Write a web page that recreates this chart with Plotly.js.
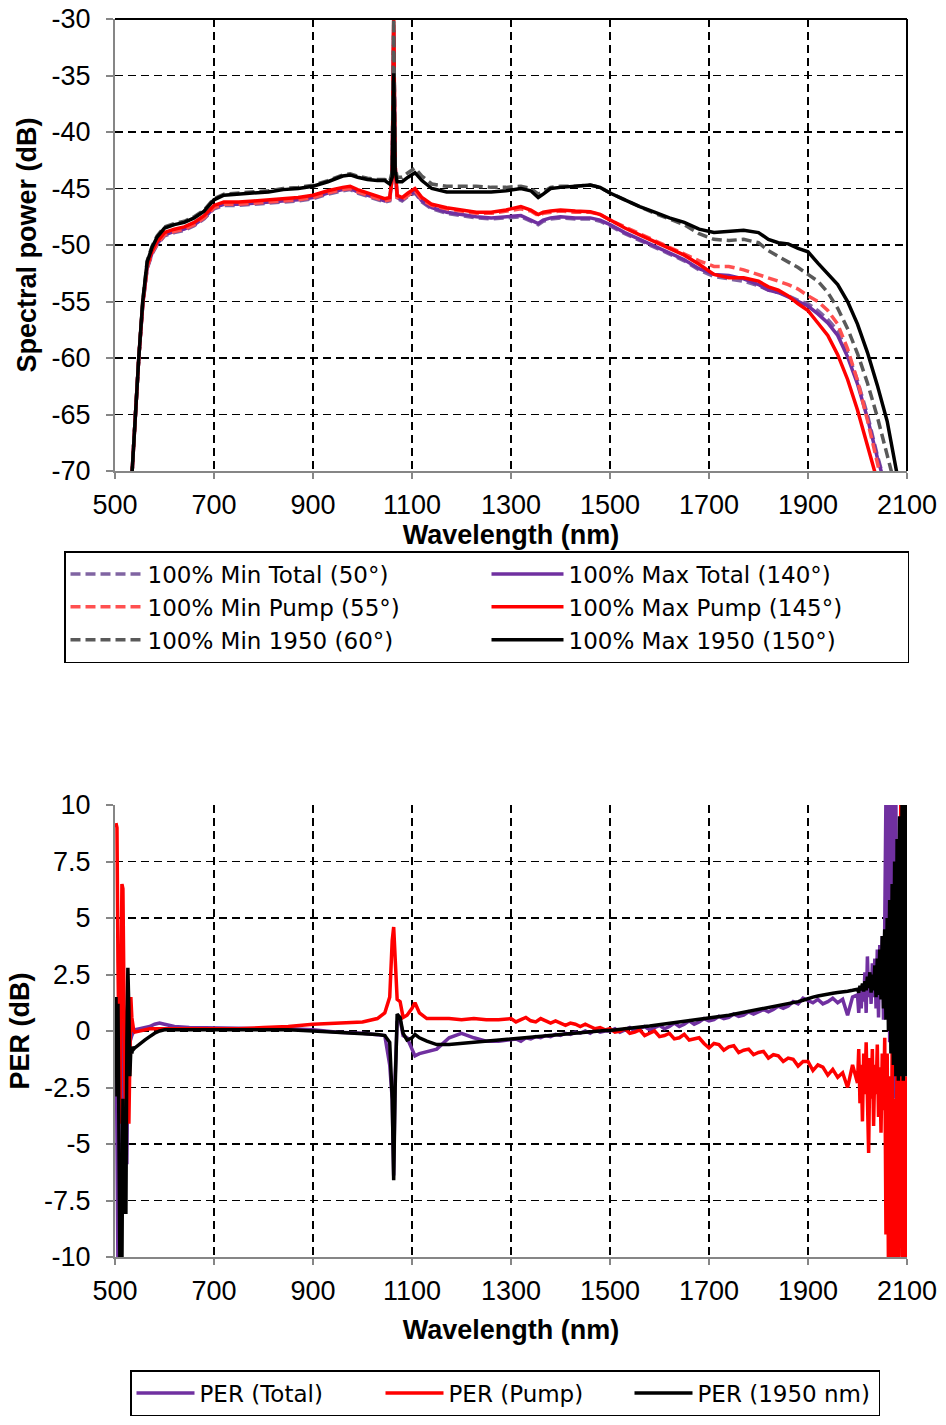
<!DOCTYPE html>
<html>
<head>
<meta charset="utf-8">
<script src="https://cdn.plot.ly/plotly-3.0.1.min.js"></script>
<style>
  html, body { margin: 0; padding: 0; background: #fff; overflow: hidden; }
  #chart { width: 946px; height: 1425px; }
</style>
</head>
<body>
<div id="chart"></div>
<script>
// ---------- Top chart: spectral power (dB) vs wavelength (nm) ----------
const wavelengthTop = [534, 541, 548, 556, 565, 575, 585, 600, 620, 640,
  660, 680, 700, 720, 750, 780, 810, 840, 870, 900,
  930, 960, 975, 990, 1010, 1030, 1045, 1055, 1060, 1063,
  1066, 1070, 1080, 1092, 1106, 1120, 1140, 1170, 1200, 1230,
  1260, 1290, 1320, 1340, 1355, 1365, 1380, 1400, 1430, 1460,
  1480, 1500, 1530, 1560, 1590, 1620, 1650, 1680, 1710, 1740,
  1770, 1800, 1820, 1840, 1860, 1880, 1900, 1920, 1940, 1960,
  1980, 2000, 2020, 2040, 2060, 2080];

const minTotal50 = [-70.5, -65, -60, -55.4, -52.1, -50.8, -50.0, -49.2, -48.9, -48.7,
  -48.3, -47.7, -46.8, -46.5, -46.5, -46.4, -46.3, -46.2, -46.1, -45.9,
  -45.5, -45.2, -45.1, -45.4, -45.7, -46.0, -46.2, -46.1, -44.0, -31.0,
  -43.0, -45.9, -46.1, -45.7, -45.4, -46.2, -46.8, -47.2, -47.4, -47.6,
  -47.7, -47.6, -47.5, -47.9, -48.2, -47.9, -47.7, -47.6, -47.7, -47.7,
  -47.9, -48.3, -49.0, -49.6, -50.2, -50.8, -51.4, -52.2, -52.8, -53.0,
  -53.2, -53.6, -54.0, -54.2, -54.5, -54.9, -55.2, -55.8, -56.6, -57.6,
  -59.5, -62.0, -65.0, -68.6, -72.0, -75.0];

const maxTotal140 = [-70.5, -65, -60, -55.3, -52.0, -50.7, -49.9, -49.1, -48.8, -48.6,
  -48.2, -47.6, -46.7, -46.4, -46.4, -46.3, -46.2, -46.1, -46.0, -45.8,
  -45.4, -45.1, -45.0, -45.3, -45.6, -45.9, -46.1, -46.0, -44.0, -31.0,
  -43.0, -45.8, -46.0, -45.6, -45.3, -46.1, -46.7, -47.1, -47.3, -47.5,
  -47.6, -47.5, -47.4, -47.8, -48.1, -47.8, -47.6, -47.5, -47.6, -47.6,
  -47.8, -48.2, -48.9, -49.5, -50.1, -50.7, -51.3, -52.1, -52.6, -52.7,
  -53.0, -53.5, -54.0, -54.2, -54.6, -55.0, -55.4, -56.1, -56.9, -58.0,
  -59.9, -62.3, -65.3, -68.8, -72.0, -75.0];

const minPump55 = [-70.5, -65, -60, -55.3, -52.0, -50.7, -49.9, -49.1, -48.8, -48.6,
  -48.2, -47.6, -46.7, -46.4, -46.4, -46.3, -46.2, -46.1, -46.0, -45.8,
  -45.4, -45.1, -45.0, -45.3, -45.6, -45.9, -46.1, -46.0, -44.0, -30.5,
  -43.0, -45.8, -46.0, -45.6, -45.2, -46.0, -46.5, -46.8, -47.0, -47.2,
  -47.2, -47.0, -46.8, -47.0, -47.4, -47.2, -47.1, -47.0, -47.1, -47.1,
  -47.3, -47.8, -48.4, -49.0, -49.6, -50.2, -50.8, -51.4, -51.9, -51.9,
  -52.2, -52.6, -52.9, -53.2, -53.5, -53.9, -54.5, -55.0, -55.8, -57.0,
  -59.2, -62.0, -65.5, -69.4, -73.0, -75.0];

const maxPump145 = [-70.5, -65, -60, -55.2, -51.8, -50.5, -49.7, -48.9, -48.6, -48.4,
  -48.0, -47.4, -46.5, -46.2, -46.2, -46.1, -46.0, -45.9, -45.8, -45.6,
  -45.2, -44.9, -44.8, -45.1, -45.4, -45.7, -45.9, -45.8, -44.0, -30.0,
  -43.0, -45.6, -45.8, -45.4, -45.0, -45.8, -46.4, -46.7, -46.9, -47.1,
  -47.1, -46.9, -46.6, -46.9, -47.3, -47.1, -47.0, -46.9, -47.0, -47.05,
  -47.3, -47.8, -48.5, -49.1, -49.7, -50.3, -50.9, -51.7, -52.6, -52.9,
  -52.9, -53.2, -53.7, -54.0, -54.5, -55.2, -55.8, -56.9, -58.0, -59.7,
  -61.9, -64.6, -67.8, -71.0, -74.0, -76.0];

const min1950_60 = [-70.5, -65, -60, -55, -51.4, -50.1, -49.2, -48.4, -48.1, -47.9,
  -47.5, -46.9, -45.9, -45.5, -45.4, -45.3, -45.2, -45.0, -44.9, -44.7,
  -44.3, -43.8, -43.7, -43.9, -44.1, -44.2, -44.2, -44.4, -43.5, -30.0,
  -43.0, -44.0, -44.0, -43.6, -43.2, -43.9, -44.6, -44.8, -44.8, -44.8,
  -44.9, -44.9, -44.8, -45.0, -45.5, -45.3, -44.9, -44.8, -44.8, -44.7,
  -44.9, -45.4, -46.0, -46.6, -47.2, -47.7, -48.2, -49.0, -49.5, -49.6,
  -49.5, -49.8, -50.5, -51.0, -51.5, -52.0, -52.6, -53.2, -54.2, -55.6,
  -57.4, -59.6, -62.2, -65.2, -68.6, -72.0];

const max1950_150 = [-70.5, -65, -60, -55, -51.5, -50.2, -49.3, -48.5, -48.2, -48.0,
  -47.6, -47.0, -46.0, -45.6, -45.5, -45.4, -45.3, -45.1, -45.0, -44.8,
  -44.4, -43.9, -43.8, -44.0, -44.2, -44.3, -44.3, -44.6, -44.0, -34.8,
  -43.5, -44.4, -44.4, -44.0, -43.6, -44.3, -45.0, -45.3, -45.3, -45.3,
  -45.3, -45.2, -45.0, -45.2, -45.8, -45.5, -45.0, -44.9, -44.8, -44.7,
  -44.9, -45.4, -46.0, -46.6, -47.1, -47.6, -48.0, -48.6, -48.9, -48.8,
  -48.7, -48.9, -49.5, -49.8, -49.9, -50.3, -50.6, -51.6, -52.6, -53.5,
  -55.0, -57.0, -59.5, -62.4, -65.6, -70.3];

// ---------- Bottom chart: PER (dB) vs wavelength (nm) ----------
const wavelengthPer = [502, 504, 506, 508, 510, 512, 514, 516, 518, 520,
  522, 524, 526, 528, 530, 532, 534, 536, 538, 540,
  550, 560, 570, 580, 590, 600, 620, 650, 700, 750,
  800, 850, 900, 950, 1000, 1030, 1045, 1055, 1060, 1063,
  1066, 1070, 1076, 1082, 1090, 1100, 1106, 1115, 1130, 1150,
  1175, 1200, 1225, 1250, 1275,
  1300, 1310, 1320, 1330, 1340, 1350, 1360, 1370, 1380, 1390,
  1400, 1410, 1420, 1430, 1440, 1450, 1460, 1470, 1480, 1490,
  1500, 1510, 1520, 1530, 1540, 1550, 1560, 1570, 1580, 1590,
  1600, 1610, 1620, 1630, 1640, 1650, 1660, 1670, 1680, 1690,
  1700, 1710, 1720, 1730, 1740, 1750, 1760, 1770, 1780, 1790,
  1800, 1810, 1820, 1830, 1840, 1850, 1860, 1870, 1880, 1890,
  1900, 1910, 1920, 1930, 1940, 1950, 1960, 1970, 1980, 1990,
  2000, 2002.5, 2005, 2007.5, 2010, 2012.5, 2015, 2017.5, 2020, 2022.5,
  2025, 2027.5, 2030, 2032.5, 2035, 2037.5, 2040, 2042.5, 2045, 2047.5,
  2050, 2052.5, 2055, 2057.5, 2060, 2062.5, 2065, 2067.5, 2070, 2072.5,
  2075, 2077.5, 2080, 2082.5, 2085, 2087.5, 2090, 2092.5, 2095, 2097.5,
  2100];

const perTotal = [1.0, -3.0, -10.5, -10.5, -5.0, -10.5, -2.0, 0.5, -2.0, -6.0,
  -4.0, -5.9, -1.0, -2.5, -0.5, -0.3, -0.2, -0.1, 0.0, 0.05,
  0.1, 0.15, 0.2, 0.3, 0.35, 0.3, 0.2, 0.15, 0.15, 0.12,
  0.1, 0.1, 0.05, -0.05, -0.1, -0.15, -0.2, -1.5, -3.0, -6.4,
  -2.0, 0.4, 0.5, -0.2, -0.3, -0.8, -1.1, -1.0, -0.9, -0.8,
  -0.3, -0.1, -0.3, -0.45, -0.45,
  -0.4, -0.35, -0.45, -0.3, -0.35, -0.25, -0.3, -0.2, -0.25, -0.15,
  -0.2, -0.1, -0.15, -0.05, -0.1, 0.0, -0.1, 0.05, -0.05, 0.0,
  0.0, 0.1, -0.05, 0.05, 0.15, 0.0, 0.1, 0.2, 0.05, 0.15,
  0.25, 0.1, 0.2, 0.35, 0.2, 0.3, 0.45, 0.3, 0.4, 0.55,
  0.45, 0.5, 0.65, 0.55, 0.6, 0.75, 0.65, 0.7, 0.85, 0.75,
  0.85, 0.95, 0.85, 0.95, 1.1, 1.0, 1.1, 1.3, 1.2, 1.45,
  1.35, 1.25, 1.4, 1.2, 1.3, 1.45, 1.25, 1.4, 0.7, 1.5,
  1.6, 0.8, 1.7, 1.0, 2.0, 1.3, 2.6, 0.8, 3.3, 1.5,
  2.5, 1.2, 3.0, 1.5, 3.2, 1.0, 3.6, 0.6, 3.8, 1.5,
  4.2, 0.5, 4.6, 10.5, 1.0, 10.5, -0.5, 10.5, 2.0, 10.5,
  -3.0, 10.5, -2.0, 8.0, -5.0, 6.0, -3.0, 5.0, -2.0, 4.0,
  0.0];

const perPump = [9.2, 9.0, 3.0, -2.0, -4.1, 2.0, 6.5, 6.3, 1.0, -2.5,
  -4.0, -2.0, 1.5, -4.1, -1.0, 1.5, 0.6, 0.2, 0.0, -0.05,
  0.0, 0.05, 0.1, 0.1, 0.1, 0.1, 0.1, 0.1, 0.1, 0.1,
  0.15, 0.2, 0.3, 0.35, 0.4, 0.55, 0.8, 1.5, 4.0, 4.6,
  3.0, 1.4, 1.3, 0.6, 0.7, 1.0, 1.25, 0.8, 0.55, 0.55,
  0.55, 0.5, 0.55, 0.5, 0.5,
  0.55, 0.4, 0.5, 0.6, 0.45, 0.4, 0.55, 0.45, 0.35, 0.45,
  0.35, 0.25, 0.35, 0.3, 0.2, 0.3, 0.2, 0.1, 0.15, 0.05,
  0.1, -0.05, 0.0, 0.1, -0.1, -0.05, 0.05, -0.2, -0.1, 0.0,
  -0.25, -0.2, -0.1, -0.35, -0.3, -0.15, -0.4, -0.35, -0.3, -0.55,
  -0.75, -0.55, -0.6, -0.85, -0.7, -0.65, -0.95, -0.85, -0.8, -1.05,
  -0.95, -0.9, -1.2, -1.05, -1.1, -1.35, -1.2, -1.25, -1.55, -1.35,
  -1.35, -1.75, -1.5, -1.6, -1.95, -1.7, -2.05, -1.85, -2.5, -1.5,
  -2.3, -0.8, -3.2, -1.5, -4.0, -1.0, -2.8, -0.5, -3.5, -5.4,
  -1.2, -3.0, -0.8, -4.2, -1.5, -2.8, -0.6, -3.8, -1.6, -4.5,
  -1.0, -3.5, -0.3, -9.0, -1.0, -10.5, -2.0, -10.5, -0.5, -10.5,
  -3.0, -10.5, 0.0, -10.5, -2.0, 10.5, -10.5, -1.0, -10.5, -2.0,
  -10.5];

const per1950 = [1.5, -2.9, 1.2, -3.0, -10.5, -6.0, -10.5, -3.0, -8.1, -5.0,
  -8.1, -0.5, 2.8, 1.0, -2.0, -0.8, -1.0, -0.7, -0.8, -0.75,
  -0.55, -0.4, -0.25, -0.1, 0.0, 0.05, 0.05, 0.05, 0.05, 0.05,
  0.05, 0.05, 0.0, -0.05, -0.1, -0.15, -0.2, -0.5, -3.0, -6.6,
  -2.5, 0.75, 0.6, -0.1, -0.4, -0.3, -0.15, -0.3, -0.45, -0.6,
  -0.6, -0.55, -0.5, -0.45, -0.4,
  -0.35, -0.34, -0.3, -0.29, -0.28, -0.25, -0.24, -0.2, -0.2, -0.17,
  -0.15, -0.14, -0.1, -0.09, -0.07, -0.05, -0.04, -0.01, 0.0, 0.02,
  0.02, 0.05, 0.07, 0.1, 0.12, 0.15, 0.17, 0.2, 0.22, 0.25,
  0.28, 0.3, 0.33, 0.36, 0.38, 0.41, 0.44, 0.46, 0.5, 0.52,
  0.55, 0.58, 0.62, 0.66, 0.7, 0.74, 0.78, 0.82, 0.86, 0.9,
  0.95, 0.99, 1.03, 1.07, 1.11, 1.16, 1.2, 1.25, 1.3, 1.36,
  1.45, 1.5, 1.55, 1.6, 1.63, 1.67, 1.7, 1.72, 1.76, 1.8,
  1.85, 1.7, 2.0, 1.8, 2.1, 1.75, 2.2, 1.8, 2.4, 1.9,
  2.6, 1.7, 2.5, 1.8, 2.9, 1.5, 3.2, 1.6, 3.6, 1.4,
  4.2, 1.0, 4.5, 0.5, 5.0, 0.0, 5.8, -1.0, 6.5, -1.5,
  7.5, -2.0, 8.5, -2.2, 9.5, -2.0, 10.5, -2.2, 10.5, -2.0,
  10.5];

// ---------- Tick labels ----------
const xTickVals = [500, 700, 900, 1100, 1300, 1500, 1700, 1900, 2100];
const xTickText = ['500', '700', '900', '1100', '1300', '1500', '1700', '1900', '2100'];
const yTopTickVals = [-70, -65, -60, -55, -50, -45, -40, -35, -30];
const yTopTickText = ['-70', '-65', '-60', '-55', '-50', '-45', '-40', '-35', '-30'];
const yPerTickVals = [-10, -7.5, -5, -2.5, 0, 2.5, 5, 7.5, 10];
const yPerTickText = ['-10', '-7.5', '-5', '-2.5', '0', '2.5', '5', '7.5', '10'];

// ---------- Trace definitions ----------
const FONT = 'Liberation Sans, Arial, sans-serif';
const LEGEND_FONT = 'DejaVu Sans, Liberation Sans, sans-serif';
const W = 946, H = 1425;
const DASH = '10px,5px';

function topTrace(name, y, color, dashed) {
  return {
    type: 'scatter', mode: 'lines', name: name,
    x: wavelengthTop, y: y, xaxis: 'x', yaxis: 'y', legend: 'legend',
    line: { color: color, width: 3.5, dash: dashed ? DASH : 'solid' },
    hoverinfo: 'x+y+name'
  };
}
function perTrace(name, y, color) {
  return {
    type: 'scatter', mode: 'lines', name: name,
    x: wavelengthPer, y: y, xaxis: 'x2', yaxis: 'y2', legend: 'legend2',
    line: { color: color, width: 3.5 },
    hoverinfo: 'x+y+name'
  };
}

const data = [
  topTrace('100% Min Total (50°)', minTotal50, '#8064A2', true),
  topTrace('100% Max Total (140°)', maxTotal140, '#7030A0', false),
  topTrace('100% Min Pump (55°)', minPump55, '#FF5050', true),
  topTrace('100% Max Pump (145°)', maxPump145, '#FF0000', false),
  topTrace('100% Min 1950 (60°)', min1950_60, '#595959', true),
  topTrace('100% Max 1950 (150°)', max1950_150, '#000000', false),
  perTrace('PER (Total)', perTotal, '#7030A0'),
  perTrace('PER (Pump)', perPump, '#FF0000'),
  perTrace('PER (1950 nm)', per1950, '#000000')
];

const xDomain = [115 / W, 907 / W];
const topDomain = [1 - 471 / H, 1 - 19 / H];
const botDomain = [1 - 1257 / H, 1 - 805 / H];

function xAxis(anchor, titleStandoff) {
  return {
    domain: xDomain, range: [500, 2100], anchor: anchor,
    tickmode: 'array', tickvals: xTickVals, ticktext: xTickText,
    showgrid: true, gridcolor: '#000000', griddash: '8px,5px', gridwidth: 1.5,
    showline: true, linecolor: '#868686', linewidth: 2,
    ticks: 'outside', ticklen: 6, tickwidth: 2, tickcolor: '#868686',
    ticklabelstandoff: 3,
    tickfont: { family: FONT, size: 27, color: '#000' },
    zeroline: false, automargin: false,
    title: { text: 'Wavelength (nm)', font: { family: FONT, size: 27, color: '#000', weight: 'bold' }, standoff: titleStandoff }
  };
}
function yAxis(domain, range, vals, text, title, anchor, titleStandoff) {
  return {
    domain: domain, range: range, anchor: anchor,
    tickmode: 'array', tickvals: vals, ticktext: text,
    showgrid: true, gridcolor: '#000000', griddash: '8px,5px', gridwidth: 1.5,
    showline: true, linecolor: '#868686', linewidth: 2,
    ticks: 'outside', ticklen: 7, tickwidth: 2, tickcolor: '#868686',
    ticklabelstandoff: 10,
    tickfont: { family: FONT, size: 27, color: '#000' },
    zeroline: false, automargin: false,
    title: { text: title, font: { family: FONT, size: 27, color: '#000', weight: 'bold' }, standoff: titleStandoff }
  };
}

const layout = {
  width: W, height: H,
  margin: { l: 0, r: 0, t: 0, b: 0, autoexpand: false },
  paper_bgcolor: '#ffffff', plot_bgcolor: '#ffffff',
  font: { family: FONT, size: 25, color: '#000' },
  showlegend: true,
  xaxis: xAxis('y', 0),
  yaxis: yAxis(topDomain, [-70, -30], yTopTickVals, yTopTickText, 'Spectral power (dB)', 'x', 7),
  xaxis2: xAxis('y2', 15),
  yaxis2: yAxis(botDomain, [-10, 10], yPerTickVals, yPerTickText, 'PER (dB)', 'x2', 7),
  legend: {
    x: 64 / W, y: 1 - 551 / H, xanchor: 'left', yanchor: 'top',
    orientation: 'h', entrywidth: 334, entrywidthmode: 'pixels',
    itemwidth: 72, traceorder: 'normal',
    bordercolor: '#000', borderwidth: 1.5, bgcolor: '#fff',
    font: { family: LEGEND_FONT, size: 23, color: '#000' }
  },
  legend2: {
    x: 130 / W, y: 1 - 1370 / H, xanchor: 'left', yanchor: 'top',
    orientation: 'h', entrywidth: 176, entrywidthmode: 'pixels',
    itemwidth: 58, traceorder: 'normal',
    bordercolor: '#000', borderwidth: 1.5, bgcolor: '#fff',
    font: { family: LEGEND_FONT, size: 23, color: '#000' }
  },
  shapes: [
    { type: 'line', xref: 'x domain', yref: 'y domain', x0: 0, x1: 1, y0: 1, y1: 1,
      line: { color: '#000', width: 2 } },
    { type: 'line', xref: 'x domain', yref: 'y domain', x0: 1, x1: 1, y0: 0, y1: 1,
      line: { color: '#000', width: 2 } }
  ]
};

Plotly.newPlot('chart', data, layout, { displayModeBar: false, staticPlot: true });
</script>
</body>
</html>
